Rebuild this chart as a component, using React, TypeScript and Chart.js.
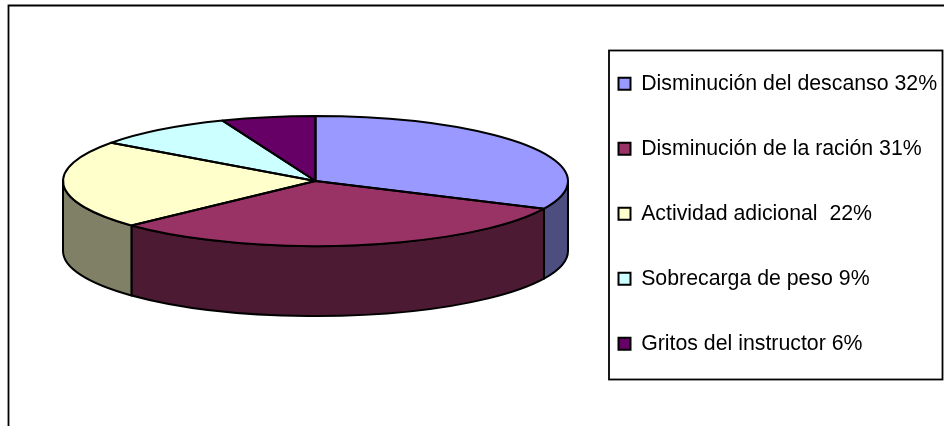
import React, { useEffect, useRef } from "react";
import { Chart, registerables } from "chart.js";

Chart.register(...registerables);

const categories = [
  "Disminución del descanso 32%",
  "Disminución de la ración 31%",
  "Actividad adicional  22%",
  "Sobrecarga de peso 9%",
  "Gritos del instructor 6%",
];
const values = [32, 31, 22, 9, 6];
const topColors = ["#9999FF", "#993366", "#FFFFCC", "#CCFFFF", "#660066"];
const wallColors = ["#4D4D80", "#4D1A33", "#808066", "#668080", "#330033"];

const CX = 315.5;
const CY = 181;
const RX = 252.5;
const RY = 65;
const DEPTH = 70;
const FONT_SIZE = 21.3;
const LEGEND_PADDING = 65 - FONT_SIZE;

const pie3d = {
  id: "pie3d",
  beforeDraw(chart: any) {
    const ctx = chart.ctx;
    ctx.save();
    ctx.fillStyle = "#fff";
    ctx.fillRect(0, 0, chart.width, chart.height);
    ctx.strokeStyle = "#000";
    ctx.lineWidth = 1.8;
    ctx.beginPath();
    ctx.moveTo(8.5, 426);
    ctx.lineTo(8.5, 5.5);
    ctx.lineTo(944, 5.5);
    ctx.stroke();
    ctx.strokeRect(609, 50.5, 333.5, 329);
    ctx.restore();
  },
  afterLayout(chart: any) {
    chart.legend.left = 618.5 - LEGEND_PADDING;
    chart.legend.top = 73 - LEGEND_PADDING;
  },
  beforeDatasetDraw(chart: any) {
    const ctx = chart.ctx;
    const arcs = chart.getDatasetMeta(0).data;
    ctx.save();
    ctx.strokeStyle = "#000";
    ctx.lineWidth = 2;
    ctx.lineJoin = "round";
    arcs.forEach((arc: any, i: number) => {
      const a = Math.max(arc.startAngle, 0);
      const b = Math.min(arc.endAngle, Math.PI);
      if (b <= a) return;
      ctx.beginPath();
      ctx.ellipse(CX, CY, RX, RY, 0, a, b);
      ctx.ellipse(CX, CY + DEPTH, RX, RY, 0, b, a, true);
      ctx.closePath();
      ctx.fillStyle = wallColors[i];
      ctx.fill();
      ctx.stroke();
    });
    ctx.restore();
    const { x, y, outerRadius } = arcs[0];
    ctx.save();
    ctx.translate(CX, CY);
    ctx.scale(RX / outerRadius, RY / outerRadius);
    ctx.translate(-x, -y);
  },
  afterDatasetDraw(chart: any) {
    const ctx = chart.ctx;
    ctx.restore();
    const arcs = chart.getDatasetMeta(0).data;
    ctx.save();
    ctx.strokeStyle = "#000";
    ctx.lineWidth = 2;
    ctx.lineJoin = "round";
    arcs.forEach((arc: any) => {
      ctx.beginPath();
      ctx.moveTo(CX, CY);
      ctx.ellipse(CX, CY, RX, RY, 0, arc.startAngle, arc.endAngle);
      ctx.closePath();
      ctx.stroke();
    });
    ctx.restore();
  },
};

export default function App() {
  const ref = useRef<HTMLCanvasElement>(null);
  useEffect(() => {
    document.body.style.margin = "0";
    const chart = new Chart(ref.current as HTMLCanvasElement, {
      type: "pie",
      data: {
        labels: categories,
        datasets: [
          {
            data: values,
            backgroundColor: topColors,
            borderWidth: 0,
          },
        ],
      },
      options: {
        responsive: false,
        animation: false,
        layout: { padding: 0 },
        plugins: {
          tooltip: { enabled: false },
          legend: {
            display: true,
            position: "right",
            align: "start",
            labels: {
              boxWidth: 12,
              boxHeight: 12,
              padding: LEGEND_PADDING,
              color: "#000",
              font: { family: "'Liberation Sans'", size: FONT_SIZE },
              generateLabels: (c: any) =>
                categories.map((text, i) => ({
                  text,
                  fillStyle: topColors[i],
                  strokeStyle: "#000",
                  lineWidth: 2,
                  index: i,
                })),
            },
          },
        },
      } as any,
      plugins: [pie3d],
    });
    return () => chart.destroy();
  }, []);
  return <canvas ref={ref} width={944} height={426} style={{ display: "block" }} />;
}
